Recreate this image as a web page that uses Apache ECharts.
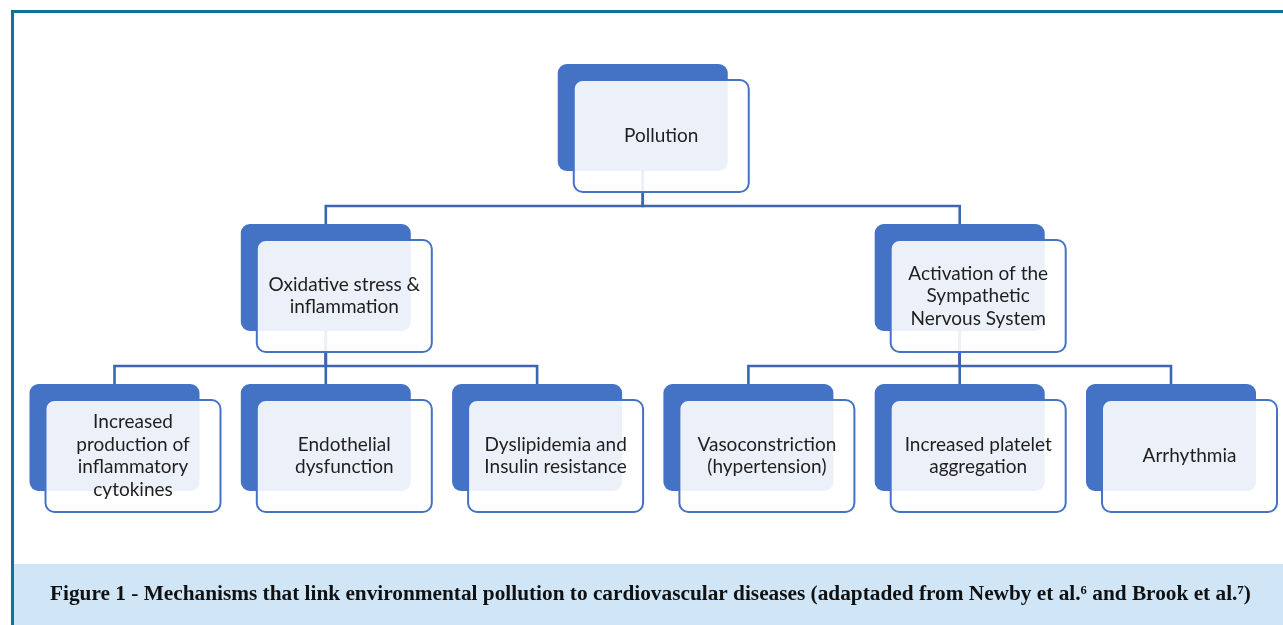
<!DOCTYPE html>
<html>
<head>
<meta charset="utf-8">
<script src="https://cdn.jsdelivr.net/npm/echarts@6/dist/echarts.min.js"></script>
<style>html,body{margin:0;padding:0;background:#fff;}#c{width:1283px;height:625px;}</style>
</head>
<body>
<div id="c"></div>
<script>
// ---- data ----
const nodeLabels = [
  'Pollution',
  'Oxidative stress &\ninflammation',
  'Activation of the\nSympathetic\nNervous System',
  'Increased\nproduction of\ninflammatory\ncytokines',
  'Endothelial\ndysfunction',
  'Dyslipidemia and\nInsulin resistance',
  'Vasoconstriction\n(hypertension)',
  'Increased platelet\naggregation',
  'Arrhythmia'
];
const nodeCols = [2.5, 1, 4, 0, 1, 2, 3, 4, 5];
const nodeLevels = [0, 1, 1, 2, 2, 2, 2, 2, 2];
const nodeParents = [-1, 0, 0, 1, 1, 1, 2, 2, 2];
const captionText = 'Figure 1 - Mechanisms that link environmental pollution to cardiovascular diseases (adaptaded from Newby et al.⁶ and Brook et al.⁷)';

// ---- styles ----
const BACK_W = 170, BACK_H = 107, OFF_X = 16, OFF_Y = 16, FRONT_W = 175, FRONT_H = 112;
const BLUE = '#4472C4', LINE = '#3C66B0';

const nodeData = nodeLabels.map((t, i) => [nodeCols[i], nodeLevels[i], i]);
const edgeData = [];
nodeParents.forEach((p, i) => { if (p >= 0) edgeData.push([nodeCols[p], nodeLevels[p], nodeCols[i], nodeLevels[i]]); });

const chart = echarts.init(document.getElementById('c'), null, {renderer: 'canvas'});
chart.setOption({
  animation: false,
  grid: {left: 114.5, top: 64, width: 1056.5, height: 320},
  xAxis: {type: 'value', min: 0, max: 5, show: false},
  yAxis: {type: 'value', min: 0, max: 2, inverse: true, show: false},
  title: {
    text: captionText,
    left: 50, top: 584, padding: 0,
    textStyle: {fontFamily: 'Liberation Serif', fontWeight: 'bold', fontSize: 21.3, color: '#111'}
  },
  graphic: [
    {type: 'rect', shape: {x: 14, y: 564, width: 1269, height: 61}, style: {fill: '#D0E6F6'}, z: -10},
    {type: 'line', shape: {x1: 11, y1: 11.5, x2: 1283, y2: 11.5}, style: {stroke: '#12709F', lineWidth: 3}},
    {type: 'line', shape: {x1: 12.5, y1: 10, x2: 12.5, y2: 625}, style: {stroke: '#12709F', lineWidth: 3}}
  ],
  series: [
    {
      type: 'custom', clip: false, z: 1,
      data: edgeData,
      renderItem: function (params, api) {
        const p = api.coord([api.value(0), api.value(1)]);
        const c = api.coord([api.value(2), api.value(3)]);
        const barY = c[1] - 18;
        return {
          type: 'polyline',
          shape: {points: [[p[0], p[1] + BACK_H], [p[0], barY], [c[0], barY], [c[0], c[1]]]},
          style: {stroke: LINE, lineWidth: 2.6, fill: null}
        };
      }
    },
    {
      type: 'custom', clip: false, z: 2,
      data: nodeData,
      renderItem: function (params, api) {
        const p = api.coord([api.value(0), api.value(1)]);
        const idx = api.value(2);
        const bx = p[0] - BACK_W / 2, by = p[1];
        const fx = bx + OFF_X, fy = by + OFF_Y;
        return {
          type: 'group',
          children: [
            {type: 'rect', shape: {x: bx, y: by, width: BACK_W, height: BACK_H, r: 9}, style: {fill: BLUE}},
            {type: 'rect', shape: {x: fx, y: fy, width: FRONT_W, height: FRONT_H, r: 9},
              style: {fill: 'rgba(255,255,255,0.9)', stroke: BLUE, lineWidth: 2}},
            {type: 'text', style: {
              text: nodeLabels[idx], x: fx + FRONT_W / 2, y: fy + FRONT_H / 2,
              align: 'center', verticalAlign: 'middle',
              fontFamily: 'Lato', fontSize: 19, lineHeight: 22.5, fill: '#1e1e1e'
            }}
          ]
        };
      }
    }
  ]
});
</script>
</body>
</html>
